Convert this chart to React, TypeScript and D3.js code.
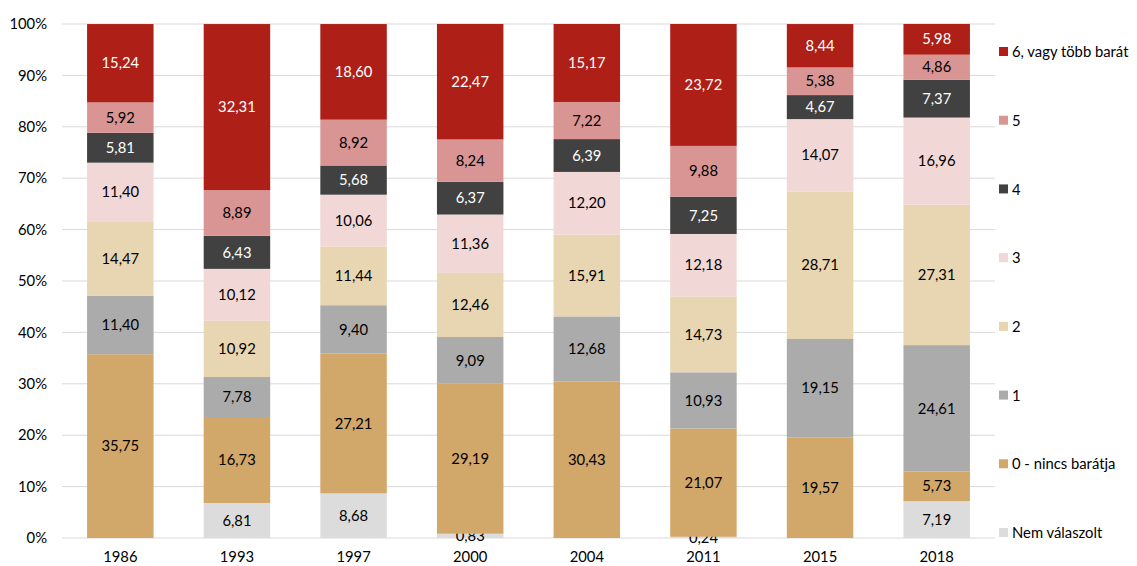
import React from "react";
import * as d3 from "d3";

const years = ["1986", "1993", "1997", "2000", "2004", "2011", "2015", "2018"];
const seriesNames = ["Nem válaszolt", "0 - nincs barátja", "1", "2", "3", "4", "5", "6, vagy több barát"];
const seriesColors = ["#DCDCDC", "#D1A76A", "#ABABAB", "#E8D5B1", "#F2D7D7", "#414141", "#D99594", "#AD1F17"];
const labelColors = ["#000", "#000", "#000", "#000", "#000", "#fff", "#000", "#fff"];
const nemValaszolt = [0, 6.81, 8.68, 0.83, 0, 0.24, 0, 7.19];
const nulla = [35.75, 16.73, 27.21, 29.19, 30.43, 21.07, 19.57, 5.73];
const egy = [11.4, 7.78, 9.4, 9.09, 12.68, 10.93, 19.15, 24.61];
const ketto = [14.47, 10.92, 11.44, 12.46, 15.91, 14.73, 28.71, 27.31];
const harom = [11.4, 10.12, 10.06, 11.36, 12.2, 12.18, 14.07, 16.96];
const negy = [5.81, 6.43, 5.68, 6.37, 6.39, 7.25, 4.67, 7.37];
const ot = [5.92, 8.89, 8.92, 8.24, 7.22, 9.88, 5.38, 4.86];
const hat = [15.24, 32.31, 18.6, 22.47, 15.17, 23.72, 8.44, 5.98];
const yTicks = [0, 10, 20, 30, 40, 50, 60, 70, 80, 90, 100];

const allSeries = [nemValaszolt, nulla, egy, ketto, harom, negy, ot, hat];

export default function App() {
  const W = 1137, H = 566;
  const left = 62, right = 995, top = 24, bottom = 538;
  const x = d3.scaleBand().domain(years).range([left, right]).paddingInner(0.43).paddingOuter(0.215);
  const y = d3.scaleLinear().domain([0, 100]).range([bottom, top]);
  const font = "Lato, 'Open Sans', sans-serif";
  const fs = 14.8;

  const rows = years.map((yr, i) => {
    const o: any = { year: yr };
    seriesNames.forEach((s, k) => (o[s] = allSeries[k][i]));
    return o;
  });
  const stacked = d3.stack().keys(seriesNames)(rows);
  const legendY = d3.scaleLinear().domain([0, 7]).range([533, 52]);

  return (
    <svg width={W} height={H} style={{ position: "absolute", left: 0, top: 0, background: "#fff" }} fontFamily={font}>
      {yTicks.map((t) => (
        <g key={t}>
          <line x1={left} x2={right} y1={y(t)} y2={y(t)} stroke="#D9D9D9" strokeWidth={1} />
          <text x={47} y={y(t)} dy="0.35em" textAnchor="end" fontSize={fs} fill="#000">{t}%</text>
        </g>
      ))}
      {stacked.map((layer, k) => (
        <g key={layer.key}>
          {layer.map((d, i) => {
            const v = allSeries[k][i];
            if (!v) return null;
            const y0 = y(d[0]), y1 = y(d[1]);
            return (
              <g key={i}>
                <rect x={x(years[i])} y={y1} width={x.bandwidth()} height={y0 - y1} fill={seriesColors[k]} />
                <text x={(x(years[i]) as number) + x.bandwidth() / 2} y={(y0 + y1) / 2} dy="0.35em" textAnchor="middle" fontSize={fs} fill={labelColors[k]}>
                  {v.toFixed(2).replace(".", ",")}
                </text>
              </g>
            );
          })}
        </g>
      ))}
      {years.map((yr) => (
        <text key={yr} x={(x(yr) as number) + x.bandwidth() / 2} y={562} textAnchor="middle" fontSize={fs} fill="#000">{yr}</text>
      ))}
      {seriesNames.map((s, k) => (
        <g key={s}>
          <rect x={999} y={legendY(k) - 5} width={9} height={9} fill={seriesColors[k]} />
          <text x={1012} y={legendY(k)} dy="0.35em" fontSize={fs} fill="#000">{s}</text>
        </g>
      ))}
    </svg>
  );
}
